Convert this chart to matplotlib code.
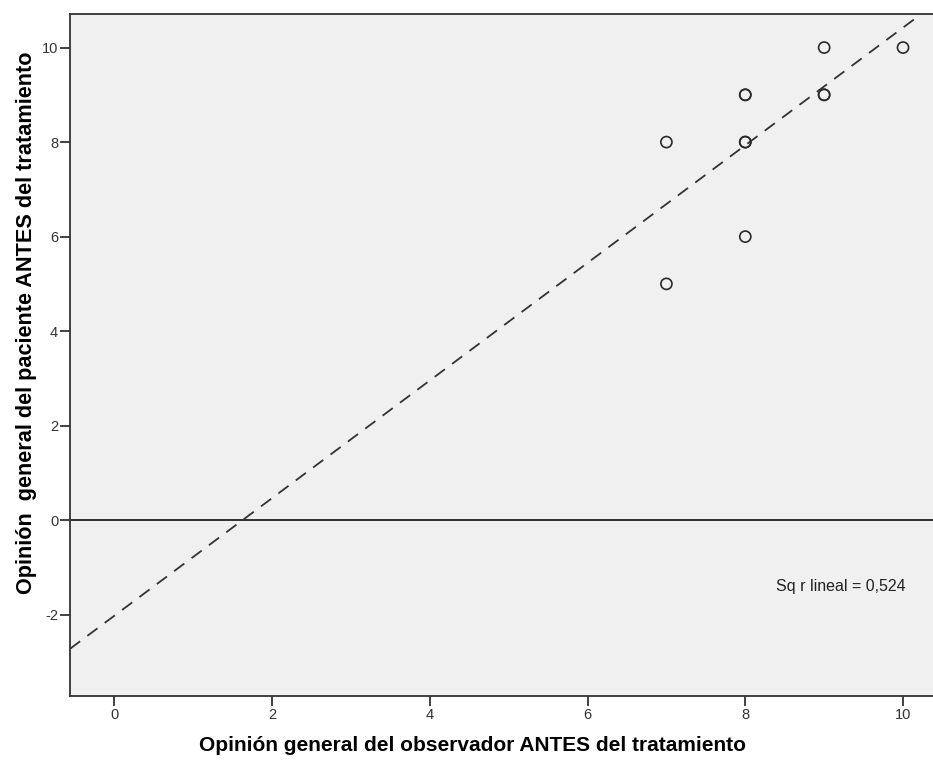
import numpy as np
import matplotlib
matplotlib.use("Agg")
import matplotlib.pyplot as plt

plt.rcParams['font.family'] = ['Liberation Sans', 'DejaVu Sans']
plt.rcParams['axes.unicode_minus'] = False

# Scores: observer vs patient, before treatment (one entry per case)
observador = [7, 7, 8, 8, 8, 8, 8, 9, 9, 9, 10]
paciente = [8, 5, 9, 9, 8, 8, 6, 10, 9, 9, 10]

x_ticks = [0, 2, 4, 6, 8, 10]
y_ticks = [-2, 0, 2, 4, 6, 8, 10]

x = np.array(observador, dtype=float)
y = np.array(paciente, dtype=float)
slope, intercept = np.polyfit(x, y, 1)
r2 = np.corrcoef(x, y)[0, 1] ** 2

fig = plt.figure(figsize=(9.33, 7.61), dpi=100)
ax = fig.add_axes([0.0750, 0.0854, 0.925, 0.8962])
ax.set_facecolor('#f0f0f0')

xlim = (-0.562, 10.38)
ylim = (-3.72, 10.71)
ax.set_xlim(*xlim)
ax.set_ylim(*ylim)

# reference line at zero
ax.axhline(0, color='#222222', lw=1.3, zorder=1)

# linear fit
xs = np.array(xlim)
ax.plot(xs, intercept + slope * xs, color='#333333', lw=1.3,
        dashes=(7, 5), zorder=2)

ax.scatter(x, y, s=64, facecolors='none', edgecolors='#2a2a2a',
           linewidths=1.2, zorder=3)

ax.text(10.03, -1.405, f"Sq r lineal = {r2:.3f}".replace('.', ','),
        ha='right', va='center', fontsize=11.5, color='#222222')

ax.set_xticks(x_ticks)
ax.set_yticks(y_ticks)
ax.tick_params(direction='out', length=7, width=1.3, colors='#333333',
               labelsize=10.5, labelcolor='#333333', pad=1.5)
for side in ('left', 'bottom', 'top'):
    ax.spines[side].set_color('#333333')
    ax.spines[side].set_linewidth(1.3)
ax.spines['right'].set_visible(False)

ax.set_xlabel('Opinión general del observador ANTES del tratamiento',
              fontsize=15, fontweight='bold')
ax.set_ylabel('Opinión  general del paciente ANTES del tratamiento',
              fontsize=15.6, fontweight='bold')
ax.xaxis.set_label_coords(0.466, -0.058)
ax.yaxis.set_label_coords(-0.038, 0.547)

fig.savefig('out.png', dpi=100, facecolor='white')
